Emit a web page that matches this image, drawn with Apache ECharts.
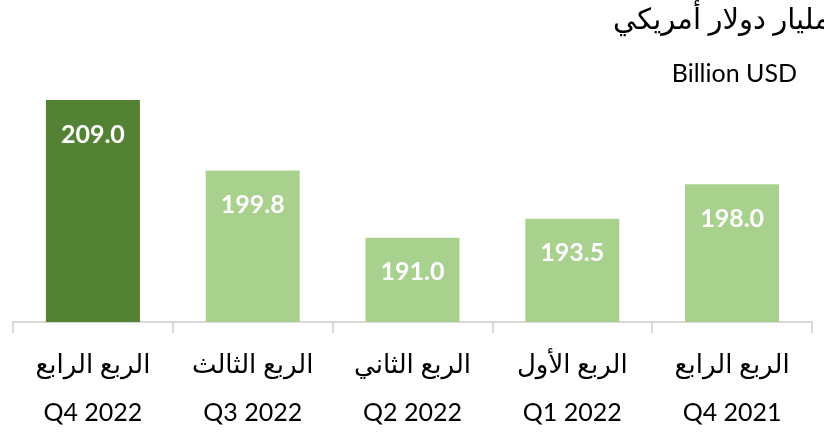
<!DOCTYPE html>
<html>
<head>
<meta charset="utf-8">
<script src="https://cdn.jsdelivr.net/npm/echarts@6/dist/echarts.min.js"></script>
<style>
  html, body { margin: 0; padding: 0; background: #fff; }
  #chart { width: 824px; height: 440px; }
</style>
</head>
<body>
<div id="chart"></div>
<script>
// quarters, left to right
const quartersAr = ["الربع الرابع", "الربع الثالث", "الربع الثاني", "الربع الأول", "الربع الرابع"];
const quartersEn = ["Q4 2022", "Q3 2022", "Q2 2022", "Q1 2022", "Q4 2021"];
const values = [209.0, 199.8, 191.0, 193.5, 198.0];

const chart = echarts.init(document.getElementById("chart"));
chart.setOption({
  animation: false,
  textStyle: { fontFamily: "Lato, 'DejaVu Sans', sans-serif" },
  title: [
    {
      text: "مليار دولار أمريكي",
      right: -6,
      top: 5,
      padding: 0,
      textStyle: { fontSize: 29, fontWeight: "normal", color: "#000" }
    },
    {
      text: "Billion USD",
      right: 27,
      top: 61,
      padding: 0,
      textStyle: { fontSize: 25, fontWeight: "normal", color: "#000" }
    }
  ],
  grid: { left: 13, right: 12, top: 54, bottom: 118 },
  xAxis: {
    type: "category",
    data: quartersEn.map((q, i) => quartersAr[i] + "\n" + q),
    axisLine: { lineStyle: { color: "#d9d9d9", width: 2 } },
    axisTick: { show: true, length: 11, lineStyle: { color: "#d9d9d9", width: 2 } },
    axisLabel: {
      margin: 19,
      formatter: function (v) {
        const p = v.split("\n");
        return "{a|" + p[0] + "}\n{b|" + p[1] + "}";
      },
      rich: {
        a: { fontSize: 26, color: "#000", lineHeight: 48 },
        b: { fontSize: 25, color: "#000", lineHeight: 48 }
      }
    }
  },
  yAxis: {
    type: "value",
    min: 180,
    max: 215,
    show: false
  },
  series: [
    {
      type: "bar",
      barWidth: 94,
      data: values.map((v, i) => ({
        value: v,
        itemStyle: { color: i === 0 ? "#548235" : "#a9d18e" }
      })),
      label: {
        show: true,
        position: "insideTop",
        distance: 22,
        color: "#fff",
        fontSize: 25,
        fontWeight: "bold",
        formatter: p => p.value.toFixed(1)
      }
    }
  ]
});
</script>
</body>
</html>
